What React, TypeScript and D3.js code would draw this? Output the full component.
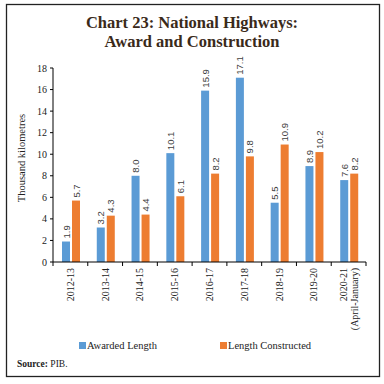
import * as d3 from 'd3';

const years = ['2012-13', '2013-14', '2014-15', '2015-16', '2016-17', '2017-18', '2018-19', '2019-20', '2020-21'];
const yearNotes = ['', '', '', '', '', '', '', '', '(April-January)'];
const awarded = [1.9, 3.2, 8.0, 10.1, 15.9, 17.1, 5.5, 8.9, 7.6];
const constructed = [5.7, 4.3, 4.4, 6.1, 8.2, 9.8, 10.9, 10.2, 8.2];
const yTicks = [0, 2, 4, 6, 8, 10, 12, 14, 16, 18];
const seriesNames = ['Awarded Length', 'Length Constructed'];

const BLUE = '#5b9bd5';
const ORANGE = '#ed7d31';
const serif = '"Liberation Serif", "DejaVu Serif", serif';
const sans = '"Liberation Sans", Arial, sans-serif';

export default function App() {
  const left = 53, right = 366, top = 68, bottom = 262;

  const x = d3.scaleBand<string>().domain(years).range([left, right]);
  const inner = d3.scaleBand<number>().domain([0, 1]).range([9, 27]).paddingInner(0.2);
  const y = d3.scaleLinear().domain([0, 18]).range([bottom, top]);

  const series = [awarded, constructed];
  const colors = [BLUE, ORANGE];
  const bw = inner.bandwidth();

  return (
    <svg width={384} height={384} style={{ position: 'absolute', left: 0, top: 0, background: '#fff' }}>
      <rect x={6.5} y={4.5} width={373} height={372} fill="none" stroke="#222" strokeWidth={1.3} />

      <text x={192} y={28} textAnchor="middle" fontFamily={serif} fontWeight="bold" fontSize={16.5} fill="#3a2a1a">
        Chart 23: National Highways:
      </text>
      <text x={192} y={47} textAnchor="middle" fontFamily={serif} fontWeight="bold" fontSize={16.5} fill="#3a2a1a">
        Award and Construction
      </text>

      {/* y axis */}
      <line x1={left} x2={left} y1={top} y2={bottom} stroke="#000" strokeWidth={1} />
      {yTicks.map((t) => (
        <g key={t}>
          <line x1={left - 3} x2={left} y1={y(t)} y2={y(t)} stroke="#000" />
          <text x={left - 6} y={y(t) + 3.5} textAnchor="end" fontFamily={serif} fontSize={10} fill="#222">
            {t}
          </text>
        </g>
      ))}
      <text
        transform={`translate(25,158) rotate(-90)`}
        textAnchor="middle"
        fontFamily={serif}
        fontSize={10.5}
        fill="#222"
      >
        Thousand kilometres
      </text>

      {/* bars */}
      {years.map((yr, i) => (
        <g key={yr}>
          {series.map((s, k) => {
            const bx = (x(yr) as number) + (inner(k) as number);
            const v = s[i];
            return (
              <g key={k}>
                <rect x={bx} y={y(v)} width={bw} height={bottom - y(v)} fill={colors[k]} />
                <text
                  transform={`translate(${bx + bw / 2 + 3.5},${y(v) - 3}) rotate(-90)`}
                  fontFamily={sans}
                  fontSize={9.5}
                  fill="#404040"
                >
                  {v.toFixed(1)}
                </text>
              </g>
            );
          })}
        </g>
      ))}

      {/* x axis */}
      <line x1={left} x2={right} y1={bottom} y2={bottom} stroke="#000" />
      {[...years.map((yr) => x(yr) as number), right].map((p, i) => (
        <line key={i} x1={p} x2={p} y1={bottom} y2={bottom + 4} stroke="#000" />
      ))}
      {years.map((yr, i) => {
        const cx = (x(yr) as number) + x.bandwidth() / 2;
        const note = yearNotes[i];
        return (
          <text
            key={yr}
            transform={`translate(${cx + (note ? -2 : 3.5)},${bottom + 6}) rotate(-90)`}
            textAnchor="end"
            fontFamily={serif}
            fontSize={10}
            fill="#222"
          >
            {yr}
            {note && (
              <tspan x={0} dy={11}>
                {note}
              </tspan>
            )}
          </text>
        );
      })}

      {/* legend */}
      {seriesNames.map((n, k) => {
        const lx = k === 0 ? 79 : 220;
        return (
          <g key={n}>
            <rect x={lx} y={342} width={7} height={7} fill={colors[k]} />
            <text x={lx + 8} y={349} fontFamily={serif} fontSize={10.5} fill="#222">
              {n}
            </text>
          </g>
        );
      })}

      <text x={17} y={367} fontFamily={serif} fontSize={9.5} fill="#222">
        <tspan fontWeight="bold">Source:</tspan> PIB.
      </text>
    </svg>
  );
}
